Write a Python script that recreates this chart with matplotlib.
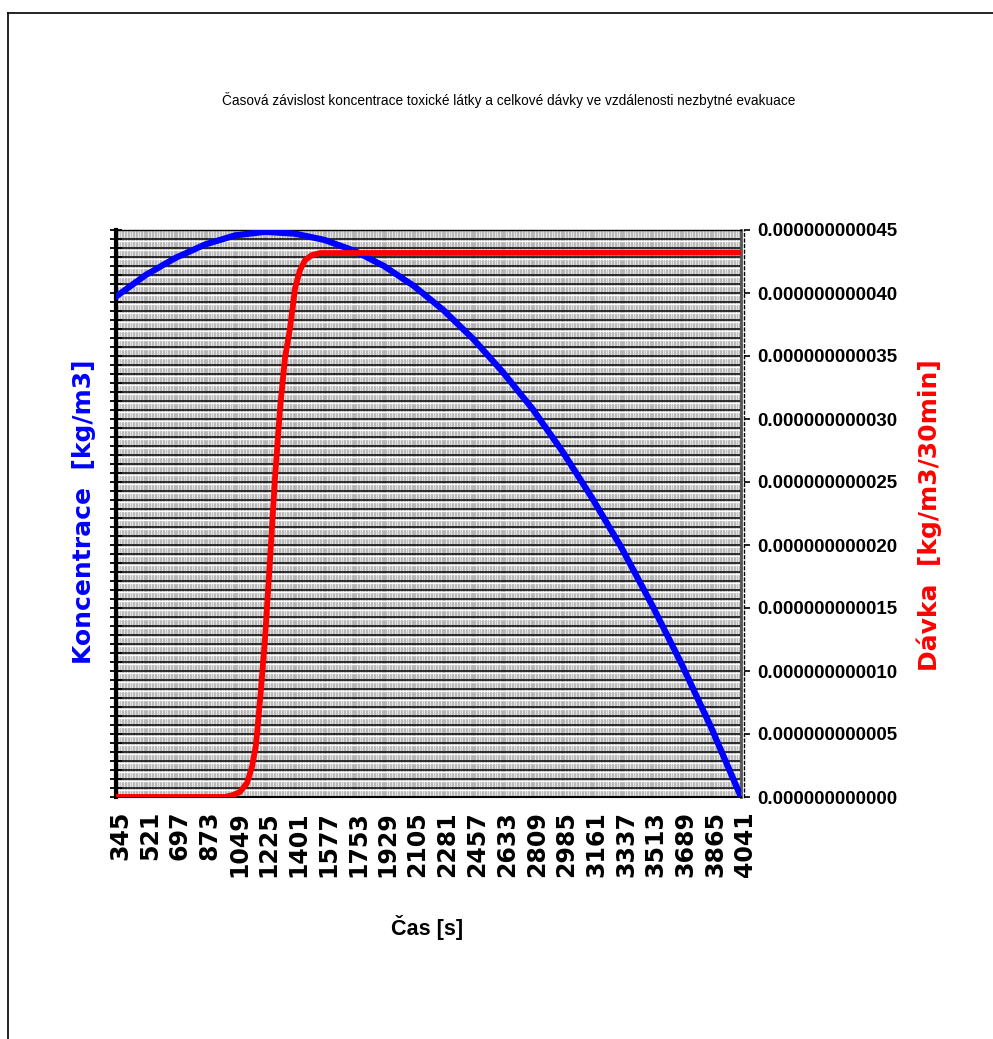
import matplotlib.pyplot as plt
import numpy as np
from matplotlib.lines import Line2D
from matplotlib import font_manager as fm
from matplotlib.transforms import ScaledTranslation

# x axis categories (time, s)
time_labels = [345, 521, 697, 873, 1049, 1225, 1401, 1577, 1753, 1929, 2105,
               2281, 2457, 2633, 2809, 2985, 3161, 3337, 3513, 3689, 3865, 4041]

# concentration - left axis has no labels, values read in grid units
conc = [55.6, 58.0, 59.9, 61.4, 62.4, 62.8, 62.6, 61.9, 60.7, 59.0, 56.8,
        54.1, 50.9, 47.2, 43.1, 38.4, 33.2, 27.6, 21.4, 14.8, 7.7, 0.0]

# dose (kg/m3/30min)
dose_time = [345, 990, 1037, 1078, 1120, 1149, 1173, 1197, 1226, 1256, 1285,
             1315, 1344, 1374, 1404, 1433, 1463, 1504, 1551, 4041]
dose = [0.0, 0.0, 0.016e-11, 0.040e-11, 0.111e-11, 0.239e-11, 0.414e-11,
        0.773e-11, 1.250e-11, 1.888e-11, 2.525e-11, 3.082e-11, 3.480e-11,
        3.719e-11, 4.038e-11, 4.181e-11, 4.261e-11, 4.301e-11, 4.317e-11, 4.321e-11]

right_ticks = [i * 5e-12 for i in range(10)]

# narrow font if there is one (the original uses Arial Narrow)
names = {f.name for f in fm.fontManager.ttflist}
if 'Liberation Sans Narrow' in names:
    nfont = dict(family='Liberation Sans Narrow')
    sz_title, sz_right, sz_cas = 11, 15, 17
else:
    nfont = dict(family='Liberation Sans')
    sz_title, sz_right, sz_cas = 9.8, 13.5, 15.5

fig = plt.figure(figsize=(9.93, 10.39), dpi=100)
ax = fig.add_axes([116/993, 1 - 797/1039, 625/993, 567/1039])

ax.set_facecolor('#b4b4b4')
ax.set_xlim(345, 4041)
ax.set_ylim(0, 63)

ax.spines['left'].set_linewidth(3)
ax.spines['bottom'].set_linewidth(1.5)
ax.spines['top'].set_linewidth(1)
ax.spines['right'].set_color('#555555')
ax.spines['right'].set_linewidth(2)

# dense excel-like grid
ax.set_yticks(np.arange(0, 64))
ax.set_yticklabels([])
ax.set_xticks(time_labels)
ax.set_xticks(np.arange(345, 4041, 16), minor=True)
ax.tick_params(axis='x', which='both', length=0, pad=10)
ax.tick_params(axis='y', which='major', direction='inout', length=9, width=1.3)
ax.set_xticklabels([str(t) for t in time_labels], rotation=90, fontsize=17,
                   fontweight='bold', family='DejaVu Sans')
for lbl in ax.get_xticklabels():
    lbl.set_transform(lbl.get_transform() + ScaledTranslation(0.04, 0, fig.dpi_scale_trans))
ax.grid(axis='x', which='minor', color='#e2e2e2', lw=0.9)
ax.grid(axis='y', which='major', color='black', lw=1.1)
ax.hlines(np.arange(1, 63) - 0.18, 345, 4041, color='white', lw=0.9, zorder=1.6)

ax.plot(time_labels, conc, color='#0000ff', lw=4.5, zorder=3)

ax2 = ax.twinx()
for s in ['left', 'top', 'bottom']:
    ax2.spines[s].set_visible(False)
# set_position resets the ticks, so do it before the labels
ax2.spines['right'].set_position(('outward', 2))
ax2.spines['right'].set_linestyle((0, (2, 2)))
ax2.spines['right'].set_linewidth(1)
ax2.set_ylim(0, 4.5e-11)
ax2.set_yticks(right_ticks)
ax2.tick_params(axis='y', length=4, width=1.2, pad=6)
ax2.set_yticklabels([f'{v:.12f}' for v in right_ticks], fontsize=sz_right,
                    fontweight='bold', **nfont)

ax2.plot(dose_time, dose, color='#ff0000', lw=4.2, zorder=3)

# labels
fig.text(509/993, 1 - 100/1039,
         'Časová závislost koncentrace toxické látky a celkové dávky ve vzdálenosti nezbytné evakuace',
         ha='center', va='center', fontsize=sz_title, **nfont)
fig.text(84/993, 1 - 512/1039, 'Koncentrace  [kg/m3]', rotation=90, color='#0000ff',
         ha='center', va='center', fontsize=18, fontweight='bold', family='DejaVu Sans')
fig.text(929/993, 1 - 515/1039, 'Dávka  [kg/m3/30min]', rotation=90, color='#ff0000',
         ha='center', va='center', fontsize=18, fontweight='bold', family='DejaVu Sans')
fig.text(427/993, 1 - 927/1039, 'Čas [s]', ha='center', va='center', fontsize=sz_cas,
         fontweight='bold', **nfont)

# outer frame (top and left only visible)
fig.add_artist(Line2D([8/993, 1], [1 - 13/1039, 1 - 13/1039], color='black', lw=1.2,
                      transform=fig.transFigure))
fig.add_artist(Line2D([8/993, 8/993], [0, 1 - 13/1039], color='black', lw=1.2,
                      transform=fig.transFigure))

fig.savefig('out.png', dpi=100)
